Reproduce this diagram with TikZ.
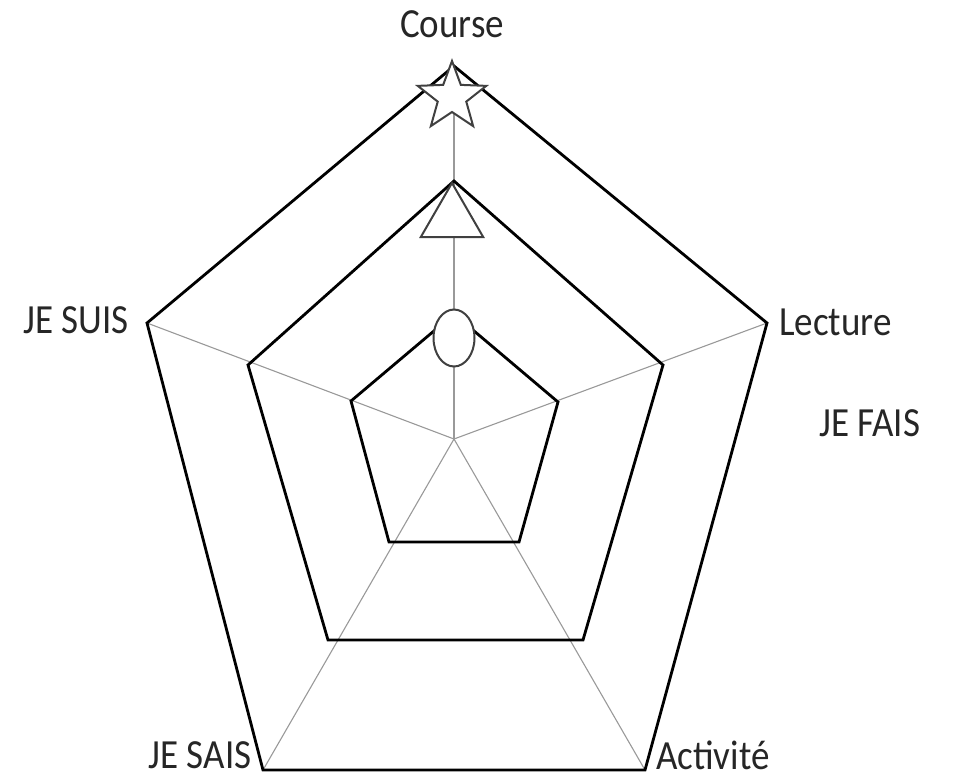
\documentclass[tikz,border=0pt]{standalone}
\usepackage{fontspec}
\setmainfont{Carlito}
\usetikzlibrary{shapes.geometric}
\begin{document}
\begin{tikzpicture}[x=1pt,y=-1pt,
  spoke/.style={draw=black!40, line width=1.1pt},
  pent/.style={draw=black, line width=2.8pt, line join=miter},
  marker/.style={draw=black!75, line width=2pt, fill=white, inner sep=0pt},
  lbl/.style={font=\fontsize{37}{40}\selectfont, text=black!85, inner sep=0pt}]
\useasboundingbox (0,0) rectangle (955,771);
% centre
\coordinate (c) at (454,439);
% outer
\coordinate (o1) at (454,66);
\coordinate (o2) at (767,323);
\coordinate (o3) at (645,770);
\coordinate (o4) at (263,770);
\coordinate (o5) at (147,323);
% middle
\coordinate (m1) at (454,181);
\coordinate (m2) at (663,365);
\coordinate (m3) at (583,640);
\coordinate (m4) at (328,640);
\coordinate (m5) at (248,365);
% inner
\coordinate (i1) at (454,314);
\coordinate (i2) at (558,402);
\coordinate (i3) at (519,542);
\coordinate (i4) at (389,542);
\coordinate (i5) at (351,401);
% spokes
\foreach \k in {1,...,5} \draw[spoke] (c) -- (o\k);
% pentagons
\draw[pent] (o1) -- (o2) -- (o3) -- (o4) -- (o5) -- cycle;
\draw[pent] (m1) -- (m2) -- (m3) -- (m4) -- (m5) -- cycle;
\draw[pent] (i1) -- (i2) -- (i3) -- (i4) -- (i5) -- cycle;
% markers
\node[marker, ellipse, minimum width=41pt, minimum height=57pt] (circ) at (454,338) {};
\node[marker, regular polygon, regular polygon sides=3, minimum size=72pt, anchor=north] (tri) at (452,181) {};
\node[marker, star, star points=5, star point ratio=2.4, minimum size=72pt] (st) at (452,97) {};
% labels
\node[lbl] (course) at (452,24) {\scalebox{1}[1.12]{Course}};
\node[lbl, anchor=east] (suis) at (129,320) {\scalebox{1}[1.12]{JE SUIS}};
\node[lbl, anchor=west] (lect) at (779,322) {\scalebox{1}[1.12]{Lecture}};
\node[lbl, anchor=west] (fais) at (819,423) {\scalebox{1}[1.12]{JE FAIS}};
\node[lbl] (sais) at (200,755) {\scalebox{1}[1.12]{JE SAIS}};
\node[lbl, anchor=west] (act) at (656,755) {\scalebox{1}[1.12]{Activité}};
\end{tikzpicture}
\end{document}
